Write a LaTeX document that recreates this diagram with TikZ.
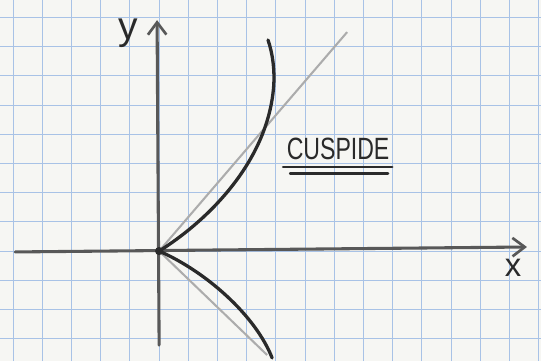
\documentclass[tikz,border=0pt]{standalone}
\usepackage{fontspec}
\usepackage{xcolor}
\usepackage{tikz}
\usetikzlibrary{arrows.meta}
\newfontfamily\handfont{Liberation Sans}

\definecolor{paper}{RGB}{246,246,243}
\definecolor{gridblue}{RGB}{168,194,230}
\definecolor{pencil}{RGB}{88,88,88}
\definecolor{ink}{RGB}{42,42,42}
\definecolor{guide}{RGB}{172,172,172}

\begin{document}
\begin{tikzpicture}[x=0.5cm, y=0.5cm,
  axis/.style={pencil, line width=1.5pt, line cap=round,
    -{Straight Barb[length=6pt, width=9pt, line width=1.3pt]}},
  branch/.style={ink, line width=1.6pt, line cap=round},
  tangent/.style={guide, line width=1pt},
  handtext/.style={ink, font=\handfont}]

  % Squared paper.
  \fill[paper] (-5.45,-3.77) rectangle (13.08,8.60);
  \useasboundingbox (-5.45,-3.77) rectangle (13.08,8.60);
  \foreach \k in {-5,...,13}
    \draw[gridblue, line width=0.5pt] (\k,-3.77) -- (\k,8.60);
  \foreach \k in {-3,...,8}
    \draw[gridblue, line width=0.5pt] (-5.45,\k) -- (13.08,\k);

  % Axes.
  \coordinate (O) at (0,0);
  \draw[axis] (-4.93,-0.03) -- (12.6,0.14) coordinate (xend);
  \draw[axis] (0,-3.22) -- (-0.07,7.91) coordinate (yend);
  \node[handtext, font=\handfont\fontsize{19}{19}\selectfont] (ylab) at (-1.06,7.45) {y};
  \node[handtext, font=\handfont\fontsize{16}{16}\selectfont] (xlab) at (12.12,-0.58) {x};

  % Tangent lines at the cusp.
  \coordinate (tup) at (6.44,7.50);
  \coordinate (tdown) at (3.70,-3.56);
  \draw[tangent] (O) -- (tup);
  \draw[tangent] (O) -- (tdown);

  % The two branches.
  \draw[branch] (O) .. controls (1.6,1.0) and (3.7,3.0) .. (3.92,5.6)
    .. controls (3.97,6.2) and (3.88,6.8) .. (3.73,7.23);
  \draw[branch] (O) .. controls (1.6,-0.7) and (3.3,-2.2) .. (3.87,-3.66);
  \fill[ink] (O) circle (0.14);

  % Title.
  \node[handtext, inner sep=0pt] (title) at (6.13,3.49)
    {\scalebox{0.75}[1]{\fontsize{15}{15}\selectfont CUSPIDE}};
  \draw[ink, line width=1.4pt, line cap=round] (4.25,2.88) -- (7.98,2.88);
  \draw[ink, line width=1.4pt, line cap=round] (4.49,2.67) -- (7.84,2.67);
\end{tikzpicture}
\end{document}
